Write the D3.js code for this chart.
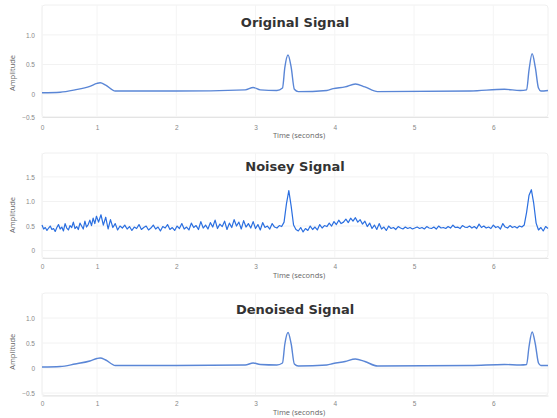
<!DOCTYPE html>
<html>
<head>
<meta charset="utf-8">
<script src="https://cdnjs.cloudflare.com/ajax/libs/d3/7.8.5/d3.min.js"></script>
<style>
  body { margin: 0; background: #fff; }
  svg { display: block; font-family: 'Open Sans', 'DejaVu Sans', sans-serif; }
</style>
</head>
<body>
<div id="canvas"></div>
<script>
// values (time in seconds, amplitude)
const originalTime = [0, 0.33, 0.6, 0.87, 1.0, 1.04, 1.11, 1.23, 2.0, 2.87, 2.97, 3.06, 3.27, 3.34, 3.37, 3.41, 3.45, 3.49, 3.54, 3.9, 3.98, 4.13, 4.26, 4.38, 4.54, 5.71, 6.14, 6.34, 6.42, 6.45, 6.49, 6.53, 6.57, 6.6, 6.69];
const originalValues = [0.02, 0.03, 0.07, 0.13, 0.18, 0.19, 0.15, 0.05, 0.05, 0.07, 0.11, 0.07, 0.06, 0.1, 0.45, 0.66, 0.45, 0.08, 0.04, 0.06, 0.09, 0.12, 0.17, 0.12, 0.04, 0.05, 0.08, 0.06, 0.07, 0.4, 0.68, 0.45, 0.1, 0.05, 0.06];
const denoisedValues = [0.02, 0.03, 0.08, 0.14, 0.19, 0.2, 0.16, 0.05, 0.05, 0.06, 0.1, 0.07, 0.06, 0.1, 0.48, 0.71, 0.48, 0.08, 0.04, 0.06, 0.09, 0.13, 0.18, 0.13, 0.04, 0.05, 0.07, 0.06, 0.07, 0.42, 0.72, 0.48, 0.1, 0.05, 0.05];

// noisy signal sampled every 0.03 s from t = 0
const noisyStep = 0.03;
const noisyValues = [
  0.52, 0.44, 0.47, 0.41, 0.46, 0.50, 0.43, 0.45, 0.39, 0.47,
  0.53, 0.44, 0.48, 0.40, 0.55, 0.46, 0.42, 0.51, 0.47, 0.58,
  0.45, 0.49, 0.43, 0.56, 0.50, 0.44, 0.60, 0.48, 0.53, 0.62,
  0.51, 0.66, 0.55, 0.70, 0.58, 0.73, 0.52, 0.68, 0.44, 0.63,
  0.47, 0.55, 0.42, 0.50, 0.46, 0.52, 0.44, 0.49, 0.41, 0.48,
  0.45, 0.53, 0.43, 0.47, 0.50, 0.42, 0.46, 0.52, 0.44, 0.48,
  0.40, 0.49, 0.46, 0.53, 0.43, 0.47, 0.41, 0.50, 0.45, 0.55,
  0.44, 0.48, 0.42, 0.56, 0.47, 0.51, 0.43, 0.59, 0.46, 0.52,
  0.44, 0.57, 0.48, 0.62, 0.45, 0.54, 0.49, 0.60, 0.43, 0.56,
  0.47, 0.63, 0.50, 0.58, 0.44, 0.61, 0.48, 0.55, 0.46, 0.59,
  0.45, 0.53, 0.42, 0.57, 0.47, 0.50, 0.44, 0.55, 0.48, 0.46,
  0.51, 0.49, 0.58, 0.95, 1.22, 0.90, 0.52, 0.43, 0.40, 0.47,
  0.38, 0.45, 0.41, 0.50, 0.43, 0.48, 0.42, 0.53, 0.46, 0.51,
  0.49, 0.56, 0.50, 0.59, 0.53, 0.62, 0.55, 0.58, 0.64, 0.57,
  0.66, 0.60, 0.67, 0.58, 0.63, 0.54, 0.60, 0.49, 0.56, 0.45,
  0.52, 0.43, 0.55, 0.44, 0.48, 0.41, 0.50, 0.45, 0.47, 0.43,
  0.49, 0.46, 0.44, 0.48, 0.45, 0.47, 0.44, 0.46, 0.48, 0.45,
  0.47, 0.44, 0.49, 0.46, 0.45, 0.48, 0.44, 0.50, 0.46, 0.47,
  0.45, 0.49, 0.46, 0.52, 0.47, 0.48, 0.45, 0.51, 0.48, 0.47,
  0.50, 0.46, 0.49, 0.45, 0.54, 0.47, 0.50, 0.46, 0.48, 0.45,
  0.52, 0.47, 0.49, 0.44, 0.55, 0.48, 0.46, 0.51, 0.47, 0.49,
  0.46, 0.50, 0.48, 0.52, 0.78, 1.12, 1.24, 0.96, 0.56, 0.42,
  0.47, 0.40, 0.49, 0.45
];

const titles = ['Original Signal', 'Noisey Signal', 'Denoised Signal'];
const xTicks = [0, 1, 2, 3, 4, 5, 6];
const yTicksA = [-0.5, 0, 0.5, 1.0];
const yTicksB = [0, 0.5, 1.0, 1.5];
const xLabel = 'Time (seconds)';
const yLabel = 'Amplitude';

const w = 557;
const h = 418;

const originalData = originalTime.map((t, i) => [t, originalValues[i]]);
const denoisedData = originalTime.map((t, i) => [t, denoisedValues[i]]);
const noisyData = noisyValues.map((v, i) => [i * noisyStep, v]);

// the x axis in the reference is stretched between 0 and 1
const xScale = d3.scaleLinear()
  .domain([0, 1, 6.69])
  .range([42, 97, 548]);

const panels = [
  { title: titles[0], data: originalData, color: '#5a86d6', width: 1.4, yDomain: [-0.5, 0, 1.1], yRange: [117, 94, 29], yTicks: yTicksA, frameTop: 5, titleY: 27, tickY: 128, labelY: 138 },
  { title: titles[1], data: noisyData, color: '#2b6fe0', width: 1.2, yDomain: [-0.15, 1.6], yRange: [258, 172], yTicks: yTicksB, frameTop: 153, titleY: 171, tickY: 267, labelY: 278 },
  { title: titles[2], data: denoisedData, color: '#5a86d6', width: 1.4, yDomain: [-0.55, 1.2], yRange: [395.5, 308], yTicks: yTicksA, frameTop: 293, titleY: 314, tickY: 404, labelY: 415 }
];

const svg = d3.select('#canvas')
  .append('svg')
  .attr('width', w)
  .attr('height', h);

panels.forEach((p) => {
  const yScale = d3.scaleLinear()
    .domain(p.yDomain)
    .range(p.yRange);

  const bottom = p.yRange[0];
  const g = svg.append('g');

  // faint panel frame
  g.append('rect')
    .attr('x', 42)
    .attr('y', p.frameTop)
    .attr('width', 506)
    .attr('height', bottom - p.frameTop)
    .attr('rx', 3)
    .attr('fill', 'none')
    .attr('stroke', '#f0f0f0');

  // grid
  g.selectAll('.hgrid')
    .data(p.yTicks)
    .enter()
    .append('line')
    .attr('x1', 42)
    .attr('x2', 548)
    .attr('y1', (d) => yScale(d))
    .attr('y2', (d) => yScale(d))
    .attr('stroke', '#f2f2f2');

  g.selectAll('.vgrid')
    .data(xTicks)
    .enter()
    .append('line')
    .attr('x1', (d) => xScale(d))
    .attr('x2', (d) => xScale(d))
    .attr('y1', p.frameTop)
    .attr('y2', bottom)
    .attr('stroke', '#f4f4f4');

  // x axis
  const xAxis = d3.axisBottom(xScale)
    .tickValues(xTicks)
    .tickFormat(d3.format('d'))
    .tickSize(0)
    .tickPadding(p.tickY - bottom - 3);

  g.append('g')
    .attr('transform', 'translate(0, ' + bottom + ')')
    .call(xAxis)
    .call((a) => a.select('.domain').attr('stroke', '#e4e4e4'))
    .call((a) => a.selectAll('text').attr('fill', '#888').style('font-size', '6.5px'));

  // y axis
  const yAxis = d3.axisLeft(yScale)
    .tickValues(p.yTicks)
    .tickFormat((d) => d === 0 ? '0' : d3.format('.1f')(d))
    .tickSize(0)
    .tickPadding(7);

  g.append('g')
    .attr('transform', 'translate(42, 0)')
    .call(yAxis)
    .call((a) => a.select('.domain').remove())
    .call((a) => a.selectAll('text').attr('fill', '#888').style('font-size', '6.5px'));

  // signal
  const line = d3.line()
    .x((d) => xScale(d[0]))
    .y((d) => yScale(d[1]))
    .curve(p.data === noisyData ? d3.curveLinear : d3.curveMonotoneX);

  g.append('path')
    .datum(p.data)
    .attr('d', line)
    .attr('fill', 'none')
    .attr('stroke', p.color)
    .attr('stroke-width', p.width)
    .attr('stroke-linejoin', 'round');

  // title
  g.append('text')
    .attr('x', 295)
    .attr('y', p.titleY)
    .style('text-anchor', 'middle')
    .style('font-family', "'DejaVu Sans', sans-serif")
    .style('font-size', '13px')
    .style('font-weight', 'bold')
    .attr('fill', '#333')
    .text(p.title);

  // axis titles
  g.append('text')
    .attr('x', 299)
    .attr('y', p.labelY)
    .style('text-anchor', 'middle')
    .style('font-size', '7.5px')
    .attr('fill', '#666')
    .text(xLabel);

  g.append('text')
    .attr('transform', 'translate(15, ' + ((p.yRange[0] + p.yRange[p.yRange.length - 1]) / 2) + ') rotate(-90)')
    .style('text-anchor', 'middle')
    .style('font-size', '7.5px')
    .attr('fill', '#666')
    .text(yLabel);
});
</script>
</body>
</html>
